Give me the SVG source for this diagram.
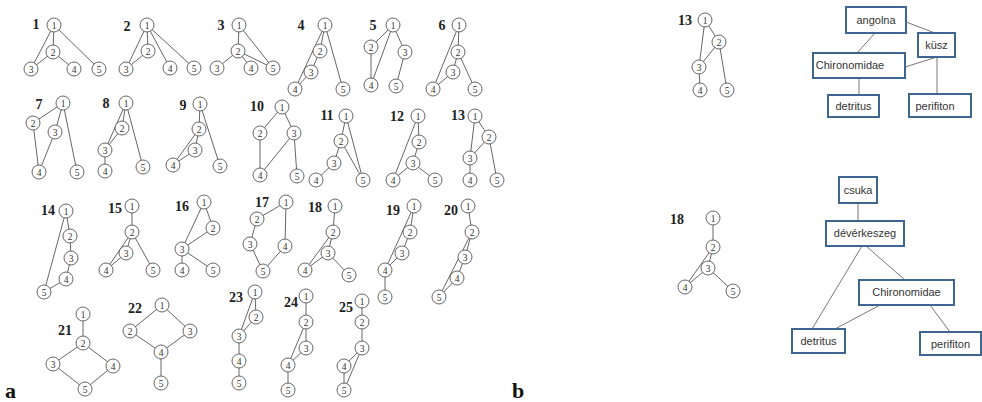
<svg xmlns="http://www.w3.org/2000/svg" width="982" height="402" viewBox="0 0 982 402">
<style>
.e line{stroke:#555;stroke-width:0.9}
.n circle{fill:#fff;stroke:#555;stroke-width:0.9}
.n text{font-family:"Liberation Serif",serif;font-size:9.5px;fill:#333;text-anchor:middle}
.lb{font-family:"Liberation Serif",serif;font-weight:bold;font-size:14px;fill:#222;text-anchor:middle}
.big{font-family:"Liberation Serif",serif;font-weight:bold;font-size:22px;fill:#111}
.bx rect{fill:#fff;stroke:#3f6690;stroke-width:2}
.bx text{font-family:"Liberation Sans",Arial,sans-serif;font-size:11px;fill:#333;text-anchor:middle}
.be line{stroke:#777;stroke-width:1}
</style>
<rect width="982" height="402" fill="#fff"/>
<g id="connectors" class="e">
<line x1="54" y1="25" x2="53" y2="52"/><line x1="54" y1="25" x2="31" y2="69"/><line x1="53" y1="52" x2="31" y2="69"/><line x1="53" y1="52" x2="74" y2="69"/><line x1="54" y1="25" x2="99" y2="69"/>
<line x1="147" y1="25" x2="148" y2="51"/><line x1="147" y1="25" x2="126" y2="69"/><line x1="148" y1="51" x2="126" y2="69"/><line x1="147" y1="25" x2="170" y2="68"/><line x1="147" y1="25" x2="194" y2="68"/>
<line x1="239" y1="25" x2="238" y2="51"/><line x1="239" y1="25" x2="273" y2="68"/><line x1="238" y1="51" x2="217" y2="68"/><line x1="238" y1="51" x2="251" y2="68"/><line x1="238" y1="51" x2="273" y2="68"/>
<line x1="325" y1="25" x2="295" y2="89"/><line x1="325" y1="25" x2="320" y2="51"/><line x1="320" y1="51" x2="311" y2="72"/><line x1="311" y1="72" x2="295" y2="89"/><line x1="325" y1="25" x2="343" y2="89"/>
<line x1="393" y1="25" x2="371" y2="47"/><line x1="393" y1="25" x2="371" y2="85"/><line x1="371" y1="47" x2="371" y2="85"/><line x1="393" y1="25" x2="405" y2="52"/><line x1="405" y1="52" x2="396" y2="86"/>
<line x1="459" y1="25" x2="458" y2="52"/><line x1="459" y1="25" x2="433" y2="89"/><line x1="458" y1="52" x2="453" y2="72"/><line x1="453" y1="72" x2="433" y2="89"/><line x1="458" y1="52" x2="475" y2="89"/>
<line x1="63" y1="103" x2="33" y2="123"/><line x1="63" y1="103" x2="55" y2="132"/><line x1="63" y1="103" x2="77" y2="172"/><line x1="33" y1="123" x2="39" y2="172"/><line x1="55" y1="132" x2="39" y2="172"/>
<line x1="126" y1="103" x2="105" y2="150"/><line x1="126" y1="103" x2="122" y2="128"/><line x1="122" y1="128" x2="105" y2="150"/><line x1="105" y1="150" x2="105" y2="171"/><line x1="126" y1="103" x2="143" y2="167"/>
<line x1="200" y1="104" x2="199" y2="129"/><line x1="199" y1="129" x2="195" y2="150"/><line x1="199" y1="129" x2="173" y2="165"/><line x1="195" y1="150" x2="173" y2="165"/><line x1="200" y1="104" x2="220" y2="166"/>
<line x1="282" y1="107" x2="260" y2="133"/><line x1="282" y1="107" x2="294" y2="133"/><line x1="260" y1="133" x2="260" y2="175"/><line x1="294" y1="133" x2="260" y2="175"/><line x1="294" y1="133" x2="297" y2="176"/>
<line x1="346" y1="116" x2="341" y2="141"/><line x1="346" y1="116" x2="363" y2="180"/><line x1="341" y1="141" x2="334" y2="163"/><line x1="334" y1="163" x2="316" y2="180"/><line x1="341" y1="141" x2="363" y2="180"/>
<line x1="418" y1="116" x2="419" y2="142"/><line x1="418" y1="116" x2="393" y2="180"/><line x1="419" y1="142" x2="413" y2="163"/><line x1="413" y1="163" x2="393" y2="180"/><line x1="413" y1="163" x2="435" y2="180"/>
<line x1="475" y1="116" x2="470" y2="158"/><line x1="475" y1="116" x2="489" y2="137"/><line x1="489" y1="137" x2="470" y2="158"/><line x1="470" y1="158" x2="470" y2="180"/><line x1="489" y1="137" x2="497" y2="180"/>
<line x1="66" y1="211" x2="70" y2="236"/><line x1="70" y1="236" x2="71" y2="258"/><line x1="71" y1="258" x2="66" y2="279"/><line x1="66" y1="279" x2="44" y2="292"/><line x1="66" y1="211" x2="44" y2="292"/>
<line x1="132" y1="206" x2="132" y2="232"/><line x1="132" y1="232" x2="126" y2="253"/><line x1="132" y1="232" x2="106" y2="270"/><line x1="126" y1="253" x2="106" y2="270"/><line x1="132" y1="232" x2="153" y2="270"/>
<line x1="204" y1="202" x2="182" y2="249"/><line x1="204" y1="202" x2="213" y2="228"/><line x1="213" y1="228" x2="182" y2="249"/><line x1="182" y1="249" x2="182" y2="270"/><line x1="182" y1="249" x2="213" y2="270"/>
<line x1="286" y1="202" x2="257" y2="219"/><line x1="257" y1="219" x2="250" y2="244"/><line x1="250" y1="244" x2="263" y2="271"/><line x1="286" y1="202" x2="285" y2="246"/><line x1="285" y1="246" x2="263" y2="271"/>
<line x1="335" y1="206" x2="333" y2="232"/><line x1="333" y1="232" x2="328" y2="253"/><line x1="333" y1="232" x2="305" y2="270"/><line x1="328" y1="253" x2="305" y2="270"/><line x1="328" y1="253" x2="349" y2="275"/>
<line x1="414" y1="206" x2="410" y2="232"/><line x1="414" y1="206" x2="385" y2="270"/><line x1="410" y1="232" x2="402" y2="253"/><line x1="402" y1="253" x2="385" y2="270"/><line x1="385" y1="270" x2="385" y2="297"/>
<line x1="468" y1="206" x2="472" y2="232"/><line x1="472" y1="232" x2="465" y2="257"/><line x1="465" y1="257" x2="457" y2="278"/><line x1="457" y1="278" x2="439" y2="297"/><line x1="472" y1="232" x2="439" y2="297"/>
<line x1="83" y1="314" x2="83" y2="343"/><line x1="83" y1="343" x2="53" y2="364"/><line x1="83" y1="343" x2="113" y2="366"/><line x1="53" y1="364" x2="85" y2="389"/><line x1="113" y1="366" x2="85" y2="389"/>
<line x1="162" y1="305" x2="130" y2="331"/><line x1="162" y1="305" x2="190" y2="331"/><line x1="130" y1="331" x2="161" y2="352"/><line x1="190" y1="331" x2="161" y2="352"/><line x1="161" y1="352" x2="161" y2="383"/>
<line x1="255" y1="292" x2="256" y2="317"/><line x1="255" y1="292" x2="239" y2="336"/><line x1="256" y1="317" x2="239" y2="336"/><line x1="239" y1="336" x2="239" y2="361"/><line x1="239" y1="361" x2="239" y2="383"/>
<line x1="306" y1="296" x2="306" y2="322"/><line x1="306" y1="322" x2="306" y2="348"/><line x1="306" y1="322" x2="288" y2="365"/><line x1="306" y1="348" x2="288" y2="365"/><line x1="288" y1="365" x2="288" y2="390"/>
<line x1="362" y1="301" x2="362" y2="322"/><line x1="362" y1="322" x2="362" y2="348"/><line x1="362" y1="348" x2="344" y2="366"/><line x1="362" y1="348" x2="344" y2="390"/><line x1="344" y1="366" x2="344" y2="390"/>
<line x1="705" y1="20" x2="699" y2="67"/><line x1="705" y1="20" x2="719" y2="42"/><line x1="719" y1="42" x2="699" y2="67"/><line x1="699" y1="67" x2="700" y2="90"/><line x1="719" y1="42" x2="727" y2="90"/>
<line x1="713" y1="218" x2="713" y2="247"/><line x1="713" y1="247" x2="708" y2="268"/><line x1="713" y1="247" x2="685" y2="287"/><line x1="708" y1="268" x2="685" y2="287"/><line x1="708" y1="268" x2="733" y2="291"/>
</g>
<g id="box-connectors" class="be">
<line x1="875" y1="33" x2="857" y2="53"/>
<line x1="906" y1="22" x2="935" y2="33"/>
<line x1="937" y1="57" x2="905" y2="67"/>
<line x1="937" y1="57" x2="937" y2="94"/>
<line x1="859" y1="78" x2="859" y2="95"/>
<line x1="858" y1="203" x2="858" y2="221"/>
<line x1="862" y1="246" x2="812" y2="329"/>
<line x1="866" y1="246" x2="905" y2="280"/>
<line x1="880" y1="305" x2="835" y2="329"/>
<line x1="930" y1="305" x2="950" y2="332"/>
</g>
<g class="lb">
<text x="36" y="29">1</text><text x="127" y="31">2</text><text x="221" y="30">3</text><text x="301" y="30">4</text><text x="373" y="30">5</text><text x="442" y="30">6</text>
<text x="39" y="109">7</text><text x="106" y="108">8</text><text x="183" y="110">9</text><text x="257" y="111">10</text><text x="327" y="120">11</text><text x="397" y="121">12</text><text x="458" y="120">13</text>
<text x="48" y="215">14</text><text x="115" y="213">15</text><text x="182" y="211">16</text><text x="262" y="207">17</text><text x="315" y="212">18</text><text x="393" y="215">19</text><text x="451" y="215">20</text>
<text x="65" y="335">21</text><text x="135" y="313">22</text><text x="236" y="302">23</text><text x="291" y="307">24</text><text x="346" y="312">25</text>
<text x="685" y="25">13</text><text x="677" y="224">18</text>
</g>
<g class="n">
<g id="g1n1"><circle cx="54" cy="25" r="7"/><text x="54" y="28.5">1</text></g>
<g id="g1n2"><circle cx="53" cy="52" r="7"/><text x="53" y="55.5">2</text></g>
<g id="g1n3"><circle cx="31" cy="69" r="7"/><text x="31" y="72.5">3</text></g>
<g id="g1n4"><circle cx="74" cy="69" r="7"/><text x="74" y="72.5">4</text></g>
<g id="g1n5"><circle cx="99" cy="69" r="7"/><text x="99" y="72.5">5</text></g>
<g id="g2n1"><circle cx="147" cy="25" r="7"/><text x="147" y="28.5">1</text></g>
<g id="g2n2"><circle cx="148" cy="51" r="7"/><text x="148" y="54.5">2</text></g>
<g id="g2n3"><circle cx="126" cy="69" r="7"/><text x="126" y="72.5">3</text></g>
<g id="g2n4"><circle cx="170" cy="68" r="7"/><text x="170" y="71.5">4</text></g>
<g id="g2n5"><circle cx="194" cy="68" r="7"/><text x="194" y="71.5">5</text></g>
<g id="g3n1"><circle cx="239" cy="25" r="7"/><text x="239" y="28.5">1</text></g>
<g id="g3n2"><circle cx="238" cy="51" r="7"/><text x="238" y="54.5">2</text></g>
<g id="g3n3"><circle cx="217" cy="68" r="7"/><text x="217" y="71.5">3</text></g>
<g id="g3n4"><circle cx="251" cy="68" r="7"/><text x="251" y="71.5">4</text></g>
<g id="g3n5"><circle cx="273" cy="68" r="7"/><text x="273" y="71.5">5</text></g>
<g id="g4n1"><circle cx="325" cy="25" r="7"/><text x="325" y="28.5">1</text></g>
<g id="g4n2"><circle cx="320" cy="51" r="7"/><text x="320" y="54.5">2</text></g>
<g id="g4n3"><circle cx="311" cy="72" r="7"/><text x="311" y="75.5">3</text></g>
<g id="g4n4"><circle cx="295" cy="89" r="7"/><text x="295" y="92.5">4</text></g>
<g id="g4n5"><circle cx="343" cy="89" r="7"/><text x="343" y="92.5">5</text></g>
<g id="g5n1"><circle cx="393" cy="25" r="7"/><text x="393" y="28.5">1</text></g>
<g id="g5n2"><circle cx="371" cy="47" r="7"/><text x="371" y="50.5">2</text></g>
<g id="g5n3"><circle cx="405" cy="52" r="7"/><text x="405" y="55.5">3</text></g>
<g id="g5n4"><circle cx="371" cy="85" r="7"/><text x="371" y="88.5">4</text></g>
<g id="g5n5"><circle cx="396" cy="86" r="7"/><text x="396" y="89.5">5</text></g>
<g id="g6n1"><circle cx="459" cy="25" r="7"/><text x="459" y="28.5">1</text></g>
<g id="g6n2"><circle cx="458" cy="52" r="7"/><text x="458" y="55.5">2</text></g>
<g id="g6n3"><circle cx="453" cy="72" r="7"/><text x="453" y="75.5">3</text></g>
<g id="g6n4"><circle cx="433" cy="89" r="7"/><text x="433" y="92.5">4</text></g>
<g id="g6n5"><circle cx="475" cy="89" r="7"/><text x="475" y="92.5">5</text></g>
<g id="g7n1"><circle cx="63" cy="103" r="7"/><text x="63" y="106.5">1</text></g>
<g id="g7n2"><circle cx="33" cy="123" r="7"/><text x="33" y="126.5">2</text></g>
<g id="g7n3"><circle cx="55" cy="132" r="7"/><text x="55" y="135.5">3</text></g>
<g id="g7n4"><circle cx="39" cy="172" r="7"/><text x="39" y="175.5">4</text></g>
<g id="g7n5"><circle cx="77" cy="172" r="7"/><text x="77" y="175.5">5</text></g>
<g id="g8n1"><circle cx="126" cy="103" r="7"/><text x="126" y="106.5">1</text></g>
<g id="g8n2"><circle cx="122" cy="128" r="7"/><text x="122" y="131.5">2</text></g>
<g id="g8n3"><circle cx="105" cy="150" r="7"/><text x="105" y="153.5">3</text></g>
<g id="g8n4"><circle cx="105" cy="171" r="7"/><text x="105" y="174.5">4</text></g>
<g id="g8n5"><circle cx="143" cy="167" r="7"/><text x="143" y="170.5">5</text></g>
<g id="g9n1"><circle cx="200" cy="104" r="7"/><text x="200" y="107.5">1</text></g>
<g id="g9n2"><circle cx="199" cy="129" r="7"/><text x="199" y="132.5">2</text></g>
<g id="g9n3"><circle cx="195" cy="150" r="7"/><text x="195" y="153.5">3</text></g>
<g id="g9n4"><circle cx="173" cy="165" r="7"/><text x="173" y="168.5">4</text></g>
<g id="g9n5"><circle cx="220" cy="166" r="7"/><text x="220" y="169.5">5</text></g>
<g id="g10n1"><circle cx="282" cy="107" r="7"/><text x="282" y="110.5">1</text></g>
<g id="g10n2"><circle cx="260" cy="133" r="7"/><text x="260" y="136.5">2</text></g>
<g id="g10n3"><circle cx="294" cy="133" r="7"/><text x="294" y="136.5">3</text></g>
<g id="g10n4"><circle cx="260" cy="175" r="7"/><text x="260" y="178.5">4</text></g>
<g id="g10n5"><circle cx="297" cy="176" r="7"/><text x="297" y="179.5">5</text></g>
<g id="g11n1"><circle cx="346" cy="116" r="7"/><text x="346" y="119.5">1</text></g>
<g id="g11n2"><circle cx="341" cy="141" r="7"/><text x="341" y="144.5">2</text></g>
<g id="g11n3"><circle cx="334" cy="163" r="7"/><text x="334" y="166.5">3</text></g>
<g id="g11n4"><circle cx="316" cy="180" r="7"/><text x="316" y="183.5">4</text></g>
<g id="g11n5"><circle cx="363" cy="180" r="7"/><text x="363" y="183.5">5</text></g>
<g id="g12n1"><circle cx="418" cy="116" r="7"/><text x="418" y="119.5">1</text></g>
<g id="g12n2"><circle cx="419" cy="142" r="7"/><text x="419" y="145.5">2</text></g>
<g id="g12n3"><circle cx="413" cy="163" r="7"/><text x="413" y="166.5">3</text></g>
<g id="g12n4"><circle cx="393" cy="180" r="7"/><text x="393" y="183.5">4</text></g>
<g id="g12n5"><circle cx="435" cy="180" r="7"/><text x="435" y="183.5">5</text></g>
<g id="g13n1"><circle cx="475" cy="116" r="7"/><text x="475" y="119.5">1</text></g>
<g id="g13n2"><circle cx="489" cy="137" r="7"/><text x="489" y="140.5">2</text></g>
<g id="g13n3"><circle cx="470" cy="158" r="7"/><text x="470" y="161.5">3</text></g>
<g id="g13n4"><circle cx="470" cy="180" r="7"/><text x="470" y="183.5">4</text></g>
<g id="g13n5"><circle cx="497" cy="180" r="7"/><text x="497" y="183.5">5</text></g>
<g id="g14n1"><circle cx="66" cy="211" r="7"/><text x="66" y="214.5">1</text></g>
<g id="g14n2"><circle cx="70" cy="236" r="7"/><text x="70" y="239.5">2</text></g>
<g id="g14n3"><circle cx="71" cy="258" r="7"/><text x="71" y="261.5">3</text></g>
<g id="g14n4"><circle cx="66" cy="279" r="7"/><text x="66" y="282.5">4</text></g>
<g id="g14n5"><circle cx="44" cy="292" r="7"/><text x="44" y="295.5">5</text></g>
<g id="g15n1"><circle cx="132" cy="206" r="7"/><text x="132" y="209.5">1</text></g>
<g id="g15n2"><circle cx="132" cy="232" r="7"/><text x="132" y="235.5">2</text></g>
<g id="g15n3"><circle cx="126" cy="253" r="7"/><text x="126" y="256.5">3</text></g>
<g id="g15n4"><circle cx="106" cy="270" r="7"/><text x="106" y="273.5">4</text></g>
<g id="g15n5"><circle cx="153" cy="270" r="7"/><text x="153" y="273.5">5</text></g>
<g id="g16n1"><circle cx="204" cy="202" r="7"/><text x="204" y="205.5">1</text></g>
<g id="g16n2"><circle cx="213" cy="228" r="7"/><text x="213" y="231.5">2</text></g>
<g id="g16n3"><circle cx="182" cy="249" r="7"/><text x="182" y="252.5">3</text></g>
<g id="g16n4"><circle cx="182" cy="270" r="7"/><text x="182" y="273.5">4</text></g>
<g id="g16n5"><circle cx="213" cy="270" r="7"/><text x="213" y="273.5">5</text></g>
<g id="g17n1"><circle cx="286" cy="202" r="7"/><text x="286" y="205.5">1</text></g>
<g id="g17n2"><circle cx="257" cy="219" r="7"/><text x="257" y="222.5">2</text></g>
<g id="g17n3"><circle cx="250" cy="244" r="7"/><text x="250" y="247.5">3</text></g>
<g id="g17n4"><circle cx="285" cy="246" r="7"/><text x="285" y="249.5">4</text></g>
<g id="g17n5"><circle cx="263" cy="271" r="7"/><text x="263" y="274.5">5</text></g>
<g id="g18n1"><circle cx="335" cy="206" r="7"/><text x="335" y="209.5">1</text></g>
<g id="g18n2"><circle cx="333" cy="232" r="7"/><text x="333" y="235.5">2</text></g>
<g id="g18n3"><circle cx="328" cy="253" r="7"/><text x="328" y="256.5">3</text></g>
<g id="g18n4"><circle cx="305" cy="270" r="7"/><text x="305" y="273.5">4</text></g>
<g id="g18n5"><circle cx="349" cy="275" r="7"/><text x="349" y="278.5">5</text></g>
<g id="g19n1"><circle cx="414" cy="206" r="7"/><text x="414" y="209.5">1</text></g>
<g id="g19n2"><circle cx="410" cy="232" r="7"/><text x="410" y="235.5">2</text></g>
<g id="g19n3"><circle cx="402" cy="253" r="7"/><text x="402" y="256.5">3</text></g>
<g id="g19n4"><circle cx="385" cy="270" r="7"/><text x="385" y="273.5">4</text></g>
<g id="g19n5"><circle cx="385" cy="297" r="7"/><text x="385" y="300.5">5</text></g>
<g id="g20n1"><circle cx="468" cy="206" r="7"/><text x="468" y="209.5">1</text></g>
<g id="g20n2"><circle cx="472" cy="232" r="7"/><text x="472" y="235.5">2</text></g>
<g id="g20n3"><circle cx="465" cy="257" r="7"/><text x="465" y="260.5">3</text></g>
<g id="g20n4"><circle cx="457" cy="278" r="7"/><text x="457" y="281.5">4</text></g>
<g id="g20n5"><circle cx="439" cy="297" r="7"/><text x="439" y="300.5">5</text></g>
<g id="g21n1"><circle cx="83" cy="314" r="7"/><text x="83" y="317.5">1</text></g>
<g id="g21n2"><circle cx="83" cy="343" r="7"/><text x="83" y="346.5">2</text></g>
<g id="g21n3"><circle cx="53" cy="364" r="7"/><text x="53" y="367.5">3</text></g>
<g id="g21n4"><circle cx="113" cy="366" r="7"/><text x="113" y="369.5">4</text></g>
<g id="g21n5"><circle cx="85" cy="389" r="7"/><text x="85" y="392.5">5</text></g>
<g id="g22n1"><circle cx="162" cy="305" r="7"/><text x="162" y="308.5">1</text></g>
<g id="g22n2"><circle cx="130" cy="331" r="7"/><text x="130" y="334.5">2</text></g>
<g id="g22n3"><circle cx="190" cy="331" r="7"/><text x="190" y="334.5">3</text></g>
<g id="g22n4"><circle cx="161" cy="352" r="7"/><text x="161" y="355.5">4</text></g>
<g id="g22n5"><circle cx="161" cy="383" r="7"/><text x="161" y="386.5">5</text></g>
<g id="g23n1"><circle cx="255" cy="292" r="7"/><text x="255" y="295.5">1</text></g>
<g id="g23n2"><circle cx="256" cy="317" r="7"/><text x="256" y="320.5">2</text></g>
<g id="g23n3"><circle cx="239" cy="336" r="7"/><text x="239" y="339.5">3</text></g>
<g id="g23n4"><circle cx="239" cy="361" r="7"/><text x="239" y="364.5">4</text></g>
<g id="g23n5"><circle cx="239" cy="383" r="7"/><text x="239" y="386.5">5</text></g>
<g id="g24n1"><circle cx="306" cy="296" r="7"/><text x="306" y="299.5">1</text></g>
<g id="g24n2"><circle cx="306" cy="322" r="7"/><text x="306" y="325.5">2</text></g>
<g id="g24n3"><circle cx="306" cy="348" r="7"/><text x="306" y="351.5">3</text></g>
<g id="g24n4"><circle cx="288" cy="365" r="7"/><text x="288" y="368.5">4</text></g>
<g id="g24n5"><circle cx="288" cy="390" r="7"/><text x="288" y="393.5">5</text></g>
<g id="g25n1"><circle cx="362" cy="301" r="7"/><text x="362" y="304.5">1</text></g>
<g id="g25n2"><circle cx="362" cy="322" r="7"/><text x="362" y="325.5">2</text></g>
<g id="g25n3"><circle cx="362" cy="348" r="7"/><text x="362" y="351.5">3</text></g>
<g id="g25n4"><circle cx="344" cy="366" r="7"/><text x="344" y="369.5">4</text></g>
<g id="g25n5"><circle cx="344" cy="390" r="7"/><text x="344" y="393.5">5</text></g>
<g id="b13n1"><circle cx="705" cy="20" r="7"/><text x="705" y="23.5">1</text></g>
<g id="b13n2"><circle cx="719" cy="42" r="7"/><text x="719" y="45.5">2</text></g>
<g id="b13n3"><circle cx="699" cy="67" r="7"/><text x="699" y="70.5">3</text></g>
<g id="b13n4"><circle cx="700" cy="90" r="7"/><text x="700" y="93.5">4</text></g>
<g id="b13n5"><circle cx="727" cy="90" r="7"/><text x="727" y="93.5">5</text></g>
<g id="b18n1"><circle cx="713" cy="218" r="7"/><text x="713" y="221.5">1</text></g>
<g id="b18n2"><circle cx="713" cy="247" r="7"/><text x="713" y="250.5">2</text></g>
<g id="b18n3"><circle cx="708" cy="268" r="7"/><text x="708" y="271.5">3</text></g>
<g id="b18n4"><circle cx="685" cy="287" r="7"/><text x="685" y="290.5">4</text></g>
<g id="b18n5"><circle cx="733" cy="291" r="7"/><text x="733" y="294.5">5</text></g>
</g>
<g class="bx">
<g id="box-angolna"><rect x="846" y="7" width="60" height="26"/><text x="876" y="24">angolna</text></g>
<g id="box-kusz"><rect x="918" y="33" width="37" height="24"/><text x="936.5" y="49">küsz</text></g>
<g id="box-chiro1"><rect x="813" y="53" width="92" height="25"/><text x="850" y="69">Chironomidae</text></g>
<g id="box-detritus1"><rect x="828" y="95" width="51" height="22"/><text x="853.5" y="110">detritus</text></g>
<g id="box-perifiton1"><rect x="909" y="94" width="62" height="23"/><text x="935" y="110">perifiton</text></g>
<g id="box-csuka"><rect x="839" y="177" width="38" height="26"/><text x="858" y="194">csuka</text></g>
<g id="box-devkeszeg"><rect x="826" y="221" width="78" height="25"/><text x="865" y="237">dévérkeszeg</text></g>
<g id="box-chiro2"><rect x="859" y="280" width="95" height="25"/><text x="906.5" y="296">Chironomidae</text></g>
<g id="box-detritus2"><rect x="792" y="329" width="53" height="24"/><text x="818.5" y="345">detritus</text></g>
<g id="box-perifiton2"><rect x="920" y="332" width="61" height="23"/><text x="950.5" y="348">perifiton</text></g>
</g>
<text class="big" x="5" y="398">a</text>
<text class="big" x="512" y="398">b</text>
</svg>
